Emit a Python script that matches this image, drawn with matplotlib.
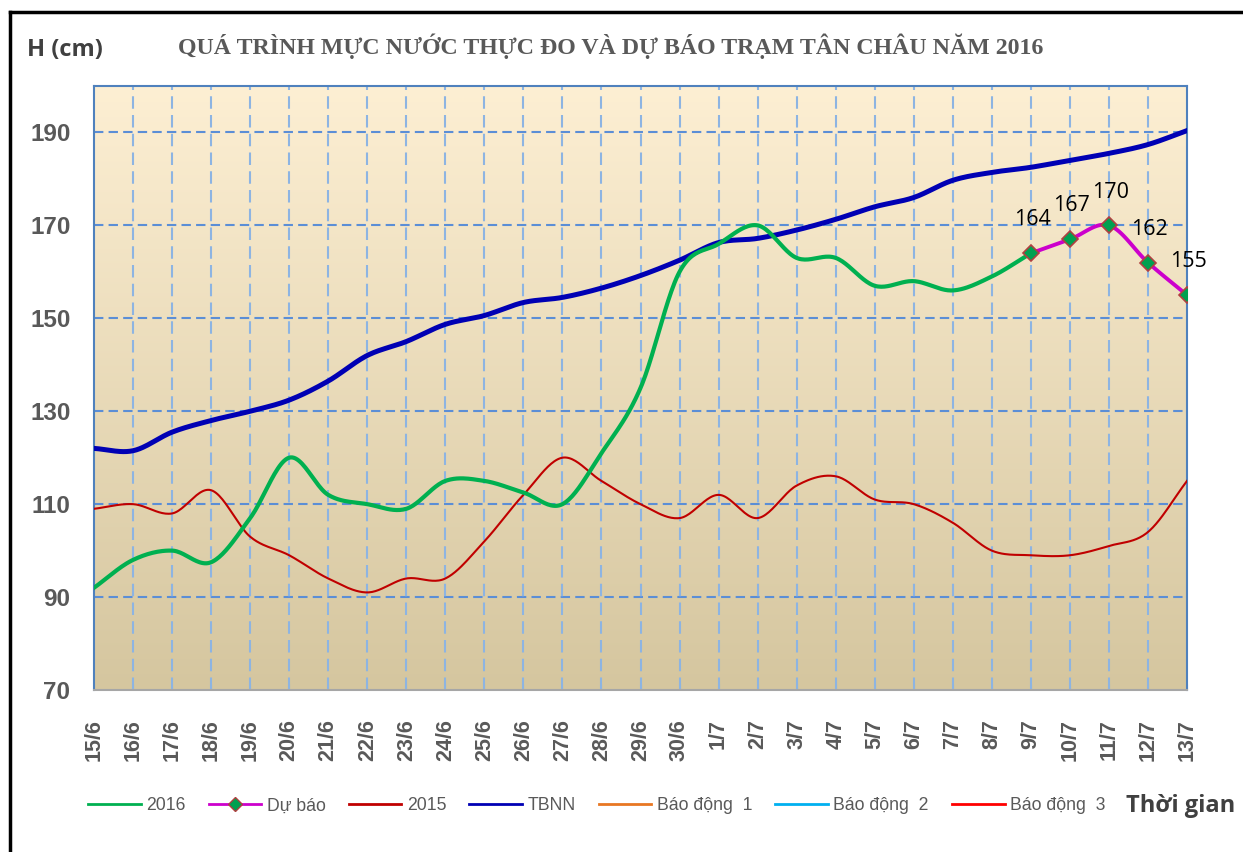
import numpy as np
import matplotlib
matplotlib.use("Agg")
import matplotlib.pyplot as plt
from matplotlib.lines import Line2D

# ---- data ----
dates = ["15/6", "16/6", "17/6", "18/6", "19/6", "20/6", "21/6", "22/6", "23/6", "24/6",
         "25/6", "26/6", "27/6", "28/6", "29/6", "30/6", "1/7", "2/7", "3/7", "4/7",
         "5/7", "6/7", "7/7", "8/7", "9/7", "10/7", "11/7", "12/7", "13/7"]
h2016 = [92, 98, 100, 97.5, 107, 120, 112, 110, 109, 115, 115, 112.5, 110, 121, 135, 160,
         166, 170, 163, 163, 157, 158, 156, 159, 164]
h2015 = [109, 110, 108, 113, 103, 99, 94, 91, 94, 94, 102, 112, 120, 115, 110, 107, 112,
         107, 114, 116, 111, 110, 106, 100, 99, 99, 101, 104, 115]
tbnn = [122, 121.5, 125.5, 128, 130, 132.4, 136.5, 142, 145, 148.7, 150.6, 153.4, 154.5,
        156.5, 159.2, 162.5, 166.3, 167.2, 169, 171.3, 174, 176, 179.7, 181.4, 182.5, 184,
        185.5, 187.4, 190.4]
forecast_dates = ["9/7", "10/7", "11/7", "12/7", "13/7"]
forecast = [164, 167, 170, 162, 155]


def smooth(x, y, n=24):
    # cardinal spline through the points, like Excel's smoothed lines
    x = np.asarray(x, float)
    y = np.asarray(y, float)
    m = np.zeros_like(y)
    m[1:-1] = (y[2:] - y[:-2]) / 2
    m[0] = y[1] - y[0]
    m[-1] = y[-1] - y[-2]
    xs, ys = [], []
    for i in range(len(x) - 1):
        t = np.linspace(0, 1, n, endpoint=False)
        h00 = 2 * t**3 - 3 * t**2 + 1
        h10 = t**3 - 2 * t**2 + t
        h01 = -2 * t**3 + 3 * t**2
        h11 = t**3 - t**2
        xs.append(x[i] + t * (x[i + 1] - x[i]))
        ys.append(h00 * y[i] + h10 * m[i] + h01 * y[i + 1] + h11 * m[i + 1])
    xs.append([x[-1]])
    ys.append([y[-1]])
    return np.concatenate(xs), np.concatenate(ys)


fig = plt.figure(figsize=(12.43, 8.52), dpi=100)
ax = fig.add_axes([94 / 1243, 1 - 690 / 852, 1093 / 1243, 604 / 852])

# gradient background
top = np.array([253, 239, 211]) / 255
bot = np.array([213, 198, 159]) / 255
grad = np.linspace(0, 1, 256)[:, None, None]
img = top * (1 - grad) + bot * grad
ax.imshow(img, extent=[0, 1, 0, 1], transform=ax.transAxes, aspect="auto", zorder=0)

xi = np.arange(len(dates))
ax.set_xlim(0, len(dates) - 1)
ax.set_ylim(70, 200)

for v in range(90, 200, 20):
    ax.axhline(v, color="#5B8ED6", lw=1.5, ls=(0, (4.5, 2.5)), zorder=1)
for v in xi[1:-1]:
    ax.axvline(v, color="#8DB4E2", lw=1.5, ls=(0, (6, 3)), zorder=1)

x, y = smooth(xi, tbnn)
ax.plot(x, y, color="#0000B4", lw=3.6, zorder=3)
x, y = smooth(xi, h2015)
ax.plot(x, y, color="#C00000", lw=1.5, zorder=3)
x, y = smooth(xi[:len(h2016)], h2016)
ax.plot(x, y, color="#00B050", lw=3, zorder=4)

fx = [dates.index(d) for d in forecast_dates]
x, y = smooth(fx, forecast)
ax.plot(x, y, color="#CC00CC", lw=2.8, zorder=5)
ax.plot(fx, forecast, ls="none", marker="D", ms=8, mfc="#00A050", mec="#B04040", mew=1.2, zorder=6)
for px, v in zip(fx, forecast):
    ax.annotate(str(v), (px, v), xytext=(1, 24), textcoords="offset points", ha="center",
                va="center", fontsize=15.5, family="Open Sans", color="black", zorder=7)

ax.set_xticks(xi)
ax.set_xticklabels(dates, rotation=90, fontsize=15.5, fontweight="bold", color="#595959",
                   family="Liberation Sans")
ax.set_yticks(range(70, 200, 20))
ax.set_yticklabels([str(v) for v in range(70, 200, 20)], fontsize=17.5, fontweight="bold",
                   color="#595959", family="Liberation Sans")
ax.tick_params(axis="x", length=4, color="#8DB4E2", direction="in", pad=21)
ax.tick_params(axis="y", length=0, pad=17)

for s in ["left", "top", "right"]:
    ax.spines[s].set_color("#4F81BD")
    ax.spines[s].set_linewidth(1.5)
ax.spines["bottom"].set_color("#A6A6A6")
ax.spines["bottom"].set_linewidth(1.5)

fig.text(65 / 1243, 1 - 50 / 852, "H (cm)", fontsize=17, fontweight="bold", color="#404040",
         family="Open Sans", ha="center", va="center")
fig.text(611 / 1243, 1 - 46 / 852, "QUÁ TRÌNH MỰC NƯỚC THỰC ĐO VÀ DỰ BÁO TRẠM TÂN CHÂU NĂM 2016",
         fontsize=17.2, fontweight="bold", family="Liberation Serif", color="#595959",
         ha="center", va="center")
fig.text(1181 / 1243, 1 - 806 / 852, "Thời gian", fontsize=17, fontweight="bold", color="#404040",
         family="Open Sans", ha="center", va="center")

handles = [
    Line2D([], [], color="#00B050", lw=2),
    Line2D([], [], color="#CC00CC", lw=2, marker="D", ms=7, mfc="#00A050", mec="#B04040"),
    Line2D([], [], color="#C00000", lw=2),
    Line2D([], [], color="#0000B4", lw=2),
    Line2D([], [], color="#E87722", lw=2),
    Line2D([], [], color="#00B0F0", lw=2),
    Line2D([], [], color="#FF0000", lw=2),
]
labels = ["2016", "Dự báo", "2015", "TBNN", "Báo động  1", "Báo động  2", "Báo động  3"]
leg = fig.legend(handles, labels, loc="center left", bbox_to_anchor=(88 / 1243, 1 - 806 / 852),
                 ncol=7, frameon=False, borderpad=0, borderaxespad=0,
                 prop={"family": "Liberation Sans", "size": 12.7},
                 handlelength=3.0, columnspacing=1.3, handletextpad=0.3)
for t in leg.get_texts():
    t.set_color("#595959")

# outer frame (left and top edges visible)
fig.add_artist(Line2D([10 / 1243, 10 / 1243], [0, 1 - 12 / 852], color="black", lw=2.5,
                      transform=fig.transFigure))
fig.add_artist(Line2D([10 / 1243, 1], [1 - 12 / 852, 1 - 12 / 852], color="black", lw=2.5,
                      transform=fig.transFigure))

fig.savefig("out.png", dpi=100)
